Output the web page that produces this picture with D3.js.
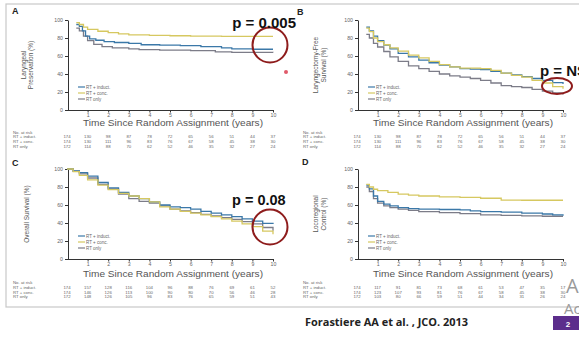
<!DOCTYPE html>
<html><head><meta charset="utf-8">
<script src="https://cdn.jsdelivr.net/npm/d3@7/dist/d3.min.js"></script>
<style>
html,body{margin:0;padding:0;background:#fff;}
svg{display:block;font-family:Arial,"Liberation Sans",sans-serif;}
</style></head>
<body>
<svg id="c" width="579" height="343"></svg>
<script>
// ---------- DATA ----------
const seriesNames = ["RT + induct.", "RT + conc.", "RT only"];
const years = [0,1,2,3,4,5,6,7,8,9,10];
const xTickValues = [1,2,3,4,5,6,7,8,9,10];
const yTickValues = [0,20,40,60,80,100];

// Panel A: Laryngeal preservation (%)
const A_induct = [[0.45,95],[0.6,93],[0.75,88],[0.9,82],[1.1,79],[1.4,77.5],[1.8,76],[2.3,75],[3,74],[3.6,72.5],[4.5,72],[5.5,71.5],[6.5,70.5],[7.5,69],[8,68],[9,67.5],[10,67.5]];
const A_conc   = [[0.45,97],[0.6,95],[0.8,92],[1,89.5],[1.5,87.5],[2,86],[2.5,84.5],[3,83.5],[4,83],[5,82.5],[6,82],[7.5,81.7],[10,81.7]];
const A_only   = [[0.45,91],[0.6,88],[0.8,82],[1,77],[1.3,73],[1.7,70.5],[2.2,69],[3,68],[3.5,67],[4.5,66.5],[6,66],[7.2,64.5],[8,64],[10,63.8]];
// Panel B: Laryngectomy-free survival (%)
const B_induct = [[0.45,92],[0.6,88],[0.8,82],[1,77],[1.3,72],[1.6,68],[2,63],[2.5,59],[3,55.5],[3.5,52.5],[4,50],[4.5,48],[5,46],[5.5,45.5],[6,45],[6.5,43],[7,41],[7.5,39],[8,37],[8.5,35],[9,33],[9.5,30.5],[10,28.9]];
const B_conc   = [[0.45,91],[0.6,87],[0.8,80],[1,76],[1.3,72.5],[1.6,69],[2,65.5],[2.5,61],[3,58],[3.5,54],[4,50.5],[4.5,48],[5,46.5],[5.5,46.5],[6,46],[6.5,44],[7,41],[7.5,38.5],[8,36.5],[8.5,33],[9,30],[9.5,26],[10,23.5]];
const B_only   = [[0.45,84],[0.6,80],[0.8,74],[1,70],[1.3,65],[1.6,59],[2,54],[2.5,49],[3,46],[3.5,43],[4,40],[4.5,38],[5,36.5],[5.5,35],[6,33],[6.5,30],[7,27],[7.5,26],[8,25],[8.5,23],[9,21],[9.5,19],[10,17.2]];
// Panel C: Overall survival (%)
const C_induct = [[0,100],[0.3,98],[0.6,96],[1,92],[1.5,85],[2,79],[2.5,74],[3,70],[3.5,67],[4,63.5],[4.5,60],[5,58],[5.5,57],[6,55.5],[6.5,53],[7,51],[7.5,49],[8,47],[8.5,44.5],[9,42],[9.5,39.5],[10,38.8]];
const C_conc   = [[0,100],[0.3,97],[0.6,93],[1,88],[1.5,82],[2,77],[2.5,73],[3,70],[3.5,67],[4,63.5],[4.5,58],[5,55.5],[5.5,53],[6,51],[6.5,49],[7,47],[7.5,44.5],[8,42],[8.5,39],[9,36],[9.5,31],[10,27.5]];
const C_only   = [[0,100],[0.3,97.5],[0.6,94.5],[1,90],[1.5,83],[2,78],[2.5,72],[3,67],[3.5,64],[4,62],[4.5,59],[5,55.5],[5.5,53.5],[6,51.5],[6.5,49.5],[7,47.8],[7.5,46],[8,44],[8.5,41.5],[9,39],[9.5,35],[10,31.5]];
// Panel D: Locoregional control (%)
const D_induct = [[0.45,82],[0.6,78],[0.8,70],[1,64],[1.3,61],[1.6,59],[2,57],[2.5,56],[3,55.5],[4,55],[5,54.5],[5.5,53.5],[6,52.6],[7,52],[8,51],[9,50],[9.5,49],[10,48]];
const D_conc   = [[0.45,83],[0.6,80],[0.8,77.5],[1,76],[1.5,74],[2,72],[2.5,71],[3,70],[4,69],[5,68.5],[6,67.5],[7,65.5],[8,65.3],[10,65.3]];
const D_only   = [[0.45,80],[0.6,75],[0.8,67],[1,62],[1.3,59],[1.6,57],[2,55.5],[2.5,54],[3,52.6],[4,51.5],[5,50.5],[6,49],[7,48.5],[8,48],[9,47.5],[10,47.5]];

// Numbers at risk
const riskA_induct = [174,130,98,87,78,72,65,56,51,44,37];
const riskA_conc   = [174,130,111,96,83,76,67,58,45,38,30];
const riskA_only   = [172,114,88,70,62,52,46,35,32,27,24];
const riskB_induct = [174,130,98,87,78,72,65,56,51,44,37];
const riskB_conc   = [174,130,111,96,83,76,67,58,45,38,30];
const riskB_only   = [172,114,88,70,62,52,46,35,32,27,24];
const riskC_induct = [174,157,128,116,104,96,88,76,69,61,52];
const riskC_conc   = [174,146,126,113,100,90,80,70,56,46,28];
const riskC_only   = [172,148,126,105,96,83,76,65,59,51,43];
const riskD_induct = [174,117,91,81,73,68,61,53,47,35,17];
const riskD_conc   = [174,123,107,93,81,76,67,58,45,38,30];
const riskD_only   = [172,103,80,66,59,51,44,34,31,26,24];

const pValues = ["p = 0.005", "p = NS", "p = 0.08", null];

// ---------- STYLE / LAYOUT ----------
const colors = ["#3b78a8", "#d6c860", "#7c7c88"];
const panels = [
  {label:"A", x0:67, x1:273, yTop:20, yBot:110, ytitle:["Laryngeal","Preservation (%)"], yt:[26,33],
   series:[A_induct,A_conc,A_only], risk:[riskA_induct,riskA_conc,riskA_only], titleDy:16, riskDy:23.5, legY:87, lx:12, ly:14},
  {label:"B", x0:357, x1:563, yTop:20, yBot:110, ytitle:["Laryngectomy-Free","Survival (%)"], yt:[318,326],
   series:[B_induct,B_conc,B_only], risk:[riskB_induct,riskB_conc,riskB_only], titleDy:16, riskDy:23.5, legY:87, lx:297, ly:15},
  {label:"C", x0:67, x1:273, yTop:169, yBot:259, ytitle:["Overall Survival (%)"], yt:[29],
   series:[C_induct,C_conc,C_only], risk:[riskC_induct,riskC_conc,riskC_only], titleDy:18, riskDy:25, legY:236, lx:12, ly:166},
  {label:"D", x0:357, x1:563, yTop:169, yBot:259, ytitle:["Locoregional","Control (%)"], yt:[318,326],
   series:[D_induct,D_conc,D_only], risk:[riskD_induct,riskD_conc,riskD_only], titleDy:18, riskDy:25, legY:236, lx:302, ly:165}
];

const svg = d3.select("#c");

// frame
svg.append("rect").attr("x",6).attr("y",4).attr("width",600).attr("height",303)
  .attr("fill","none").attr("stroke","#c8c8c8").attr("stroke-width",1.2);

panels.forEach((p,pi)=>{
  const g = svg.append("g");
  const x = d3.scaleLinear().domain([0,10]).range([p.x0,p.x1]);
  const y = d3.scaleLinear().domain([0,100]).range([p.yBot,p.yTop]);

  // axes
  const ya = g.append("g").attr("transform",`translate(${p.x0+1},0)`)
    .call(d3.axisLeft(y).tickValues(yTickValues).tickSize(3).tickSizeOuter(0).tickPadding(2));
  const xa = g.append("g").attr("transform",`translate(0,${p.yBot})`)
    .call(d3.axisBottom(x).tickValues(xTickValues).tickSize(2.5).tickSizeOuter(0).tickPadding(1));
  [ya,xa].forEach(a=>{
    a.selectAll("path").attr("stroke","#333").attr("stroke-width",1);
    a.selectAll("line").attr("stroke","#333");
    a.selectAll("text").attr("fill","#666").style("font-size","5.2px");
  });

  // y title
  p.ytitle.forEach((t,i)=>{
    g.append("text").attr("transform",`translate(${p.yt[i]},${(p.yTop+p.yBot)/2}) rotate(-90)`)
      .attr("text-anchor","middle").attr("fill","#555").style("font-size","6.5px").text(t);
  });

  // curves
  const line = d3.line().x(d=>x(d[0])).y(d=>y(d[1])).curve(d3.curveStepAfter);
  [2,0,1].forEach(si=>{
    g.append("path").datum(p.series[si]).attr("d",line)
      .attr("fill","none").attr("stroke",colors[si]).attr("stroke-width",1.3);
  });

  // legend
  seriesNames.forEach((n,i)=>{
    const yy = p.legY + i*6;
    g.append("line").attr("x1",p.x0+11).attr("x2",p.x0+18).attr("y1",yy).attr("y2",yy)
      .attr("stroke",colors[i]).attr("stroke-width",1.2);
    g.append("text").attr("x",p.x0+19).attr("y",yy+1.5).attr("fill","#666")
      .style("font-size","4.5px").text(n);
  });

  // panel label
  g.append("text").attr("x",p.lx).attr("y",p.ly).attr("font-weight","bold")
    .style("font-size","9px").attr("fill","#222").text(p.label);

  // x title
  g.append("text").attr("x",(p.x0+p.x1)/2+3).attr("y",p.yBot+p.titleDy)
    .attr("text-anchor","middle").attr("fill","#555").style("font-size","9px")
    .attr("textLength",180).attr("lengthAdjust","spacingAndGlyphs")
    .text("Time Since Random Assignment (years)");

  // numbers at risk
  const ry = p.yBot + p.riskDy;
  const lx0 = p.x0 - 54;
  g.append("text").attr("x",lx0).attr("y",ry).attr("fill","#666").style("font-size","4.3px").text("No. at risk");
  seriesNames.forEach((n,i)=>{
    const yy = ry + 4.8*(i+1);
    g.append("text").attr("x",lx0).attr("y",yy).attr("fill","#666").style("font-size","4.3px").text(n);
    years.forEach((yr,j)=>{
      g.append("text").attr("x",x(yr)).attr("y",yy).attr("text-anchor","middle")
        .attr("fill","#666").style("font-size","4.3px").text(p.risk[i][j]);
    });
  });
});

// annotations
const red = "#8e1c1c";
svg.append("circle").attr("cx",270).attr("cy",45).attr("r",17.5).attr("fill","none").attr("stroke",red).attr("stroke-width",2);
svg.append("text").attr("x",296).attr("y",28).attr("text-anchor","end").attr("font-weight","bold")
  .style("font-size","15px").attr("fill","#111").text(pValues[0]);
svg.append("circle").attr("cx",286).attr("cy",72).attr("r",2).attr("fill","#e05a6a");

svg.append("ellipse").attr("cx",557).attr("cy",86).attr("rx",15).attr("ry",8).attr("fill","none").attr("stroke",red).attr("stroke-width",2);
svg.append("text").attr("x",540).attr("y",76).attr("font-weight","bold")
  .style("font-size","15px").attr("fill","#111").text(pValues[1]);

svg.append("circle").attr("cx",270).attr("cy",227).attr("r",17.5).attr("fill","none").attr("stroke",red).attr("stroke-width",2);
svg.append("text").attr("x",232).attr("y",205).attr("font-weight","bold")
  .style("font-size","14.5px").attr("fill","#111").text(pValues[2]);

// footer
svg.append("text").attr("x",305).attr("y",326).attr("font-weight","bold")
  .style("font-family","'Open Sans',sans-serif").style("font-size","11px").attr("fill","#222")
  .attr("textLength",163).attr("lengthAdjust","spacingAndGlyphs")
  .text("Forastiere AA et al. , JCO. 2013");
svg.append("text").attr("x",566).attr("y",293).style("font-size","20px").attr("fill","#9a9a9a")
  .style("font-family","'Open Sans',sans-serif").text("Ac");
svg.append("text").attr("x",564).attr("y",314).style("font-size","15px").attr("fill","#9a9a9a")
  .style("font-family","'Open Sans',sans-serif").text("Ac");
svg.append("rect").attr("x",553).attr("y",316).attr("width",30).attr("height",14).attr("fill","#5c2d8c");
svg.append("text").attr("x",568).attr("y",326.5).attr("text-anchor","middle").style("font-size","8px")
  .attr("font-weight","bold").attr("fill","#fff").text("2");
</script>
</body></html>
